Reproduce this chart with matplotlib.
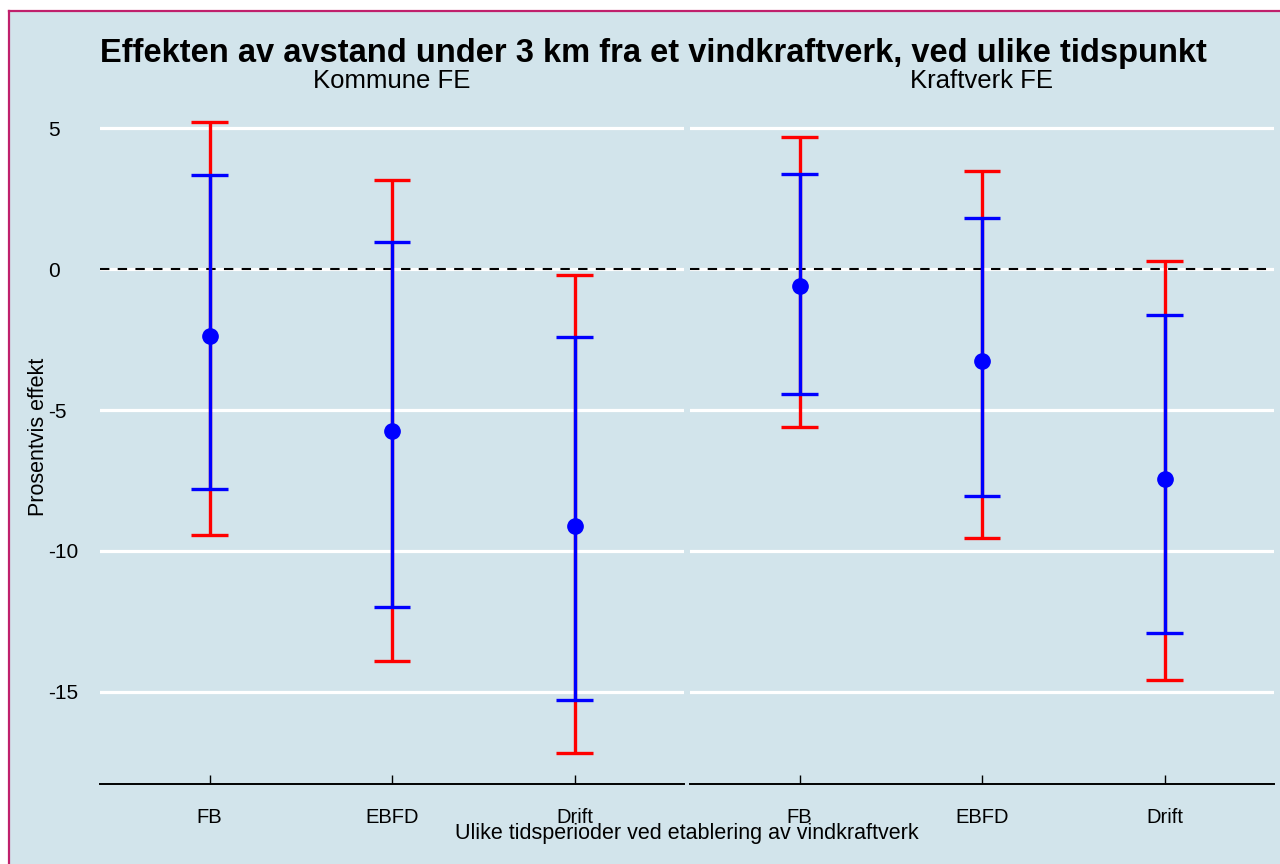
import numpy as np
import matplotlib
matplotlib.use("Agg")
from matplotlib import pyplot as plt
from matplotlib.patches import Rectangle
from matplotlib.lines import Line2D

plt.rcParams['font.family'] = ['Liberation Sans', 'DejaVu Sans']
plt.rcParams['axes.unicode_minus'] = False

periods = ["FB", "EBFD", "Drift"]
panels = ["Kommune FE", "Kraftverk FE"]

# estimates and intervals, one row per panel, columns follow periods
estimate = [[-2.38, -5.74, -9.11],
            [-0.60, -3.26, -7.45]]
ci95_low = [[-9.43, -13.90, -17.16],
            [-5.60, -9.54, -14.57]]
ci95_high = [[5.21, 3.16, -0.21],
             [4.68, 3.48, 0.28]]
ci90_low = [[-7.80, -11.99, -15.28],
            [-4.43, -8.05, -12.91]]
ci90_high = [[3.33, 0.96, -2.41],
             [3.37, 1.81, -1.63]]

yticks = [5, 0, -5, -10, -15]

bg = '#d2e4eb'
W, H = 1280, 864

fig = plt.figure(figsize=(12.8, 8.64), dpi=100, facecolor='white')

# background and border
fig.patches.append(Rectangle((9 / W, 0), 1, 1 - 12 / H, transform=fig.transFigure,
                             facecolor=bg, edgecolor='none', zorder=-10))
fig.lines.append(Line2D([8.5 / W, 8.5 / W], [0, 1 - 10.5 / H], transform=fig.transFigure,
                        color='#c0206c', lw=1.6))
fig.lines.append(Line2D([8.5 / W, 1], [1 - 10.5 / H, 1 - 10.5 / H], transform=fig.transFigure,
                        color='#c0206c', lw=1.6))

lo = np.min(ci95_low)
hi = np.max(ci95_high)
pad = 0.05 * (hi - lo)

bottom = (H - 784) / H
height = (784 - 91) / H
lefts = [100 / W, 690 / W]
width = 584 / W

x = np.arange(len(periods))
cap = 0.1

for p in range(len(panels)):
    ax = fig.add_axes([lefts[p], bottom, width, height])
    ax.set_facecolor('none')
    ax.set_xlim(-0.6, len(periods) - 0.4)
    ax.set_ylim(lo - pad, hi + pad)
    ax.set_yticks(yticks)
    ax.grid(axis='y', color='white', lw=2.3, zorder=0)
    ax.set_axisbelow(True)
    for s in ['left', 'right', 'top']:
        ax.spines[s].set_visible(False)
    ax.spines['bottom'].set_linewidth(1.4)
    ax.axhline(0, color='black', lw=1.5, ls=(0, (4.5, 4)), zorder=1)

    for lows, highs, col in [(ci95_low, ci95_high, 'red'), (ci90_low, ci90_high, 'blue')]:
        for i in x:
            l, h = lows[p][i], highs[p][i]
            ax.plot([i, i], [l, h], color=col, lw=2.4, zorder=2, solid_capstyle='butt')
            ax.plot([i - cap, i + cap], [l, l], color=col, lw=2.4, zorder=2, solid_capstyle='butt')
            ax.plot([i - cap, i + cap], [h, h], color=col, lw=2.4, zorder=2, solid_capstyle='butt')
    ax.plot(x, estimate[p], 'o', color='blue', ms=11, zorder=3)

    ax.set_xticks(x)
    ax.set_xticklabels(periods)
    ax.tick_params(axis='x', direction='in', length=6.5, width=1, pad=17.5, labelsize=14.5)
    ax.tick_params(axis='y', length=0, labelsize=15)
    if p == 0:
        ax.tick_params(axis='y', pad=37.5)
        for t in ax.get_yticklabels():
            t.set_ha('left')
    else:
        ax.set_yticklabels([])
    fig.text(lefts[p] + width / 2, 1 - 88 / H, panels[p], fontsize=18.5,
             ha='center', va='baseline')

fig.text(100 / W, 1 - 62 / H, "Effekten av avstand under 3 km fra et vindkraftverk, ved ulike tidspunkt",
         fontsize=23.5, fontweight='bold', ha='left', va='baseline')
fig.text(687 / W, 1 - 839 / H, "Ulike tidsperioder ved etablering av vindkraftverk",
         fontsize=15.5, ha='center', va='baseline')
fig.text(39 / W, 1 - 437 / H, "Prosentvis effekt", fontsize=15.5, rotation=90,
         ha='center', va='center')

fig.savefig("out.png", dpi=100, facecolor=fig.get_facecolor())
